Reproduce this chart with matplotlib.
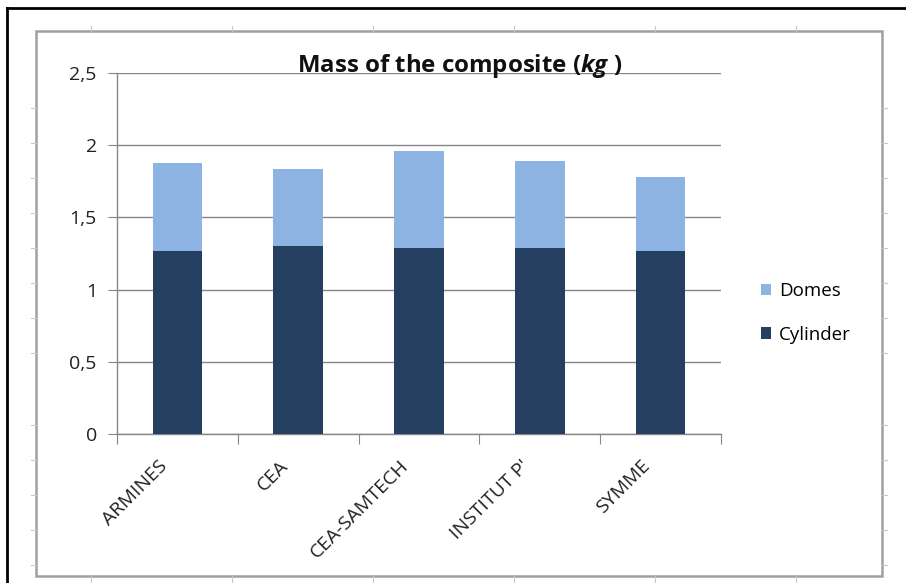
import matplotlib
matplotlib.use("Agg")
import matplotlib.pyplot as plt
from matplotlib.lines import Line2D
from matplotlib.patches import Rectangle
from matplotlib.transforms import ScaledTranslation, blended_transform_factory
import numpy as np

categories = ["ARMINES", "CEA", "CEA-SAMTECH", "INSTITUT P'", "SYMME"]
cylinder = [1.27, 1.30, 1.29, 1.29, 1.27]
domes = [0.61, 0.535, 0.67, 0.60, 0.51]
yticks = [0, 0.5, 1, 1.5, 2, 2.5]
ytick_labels = ["0", "0,5", "1", "1,5", "2", "2,5"]

plt.rcParams['font.family'] = ['Open Sans', 'DejaVu Sans']
plt.rcParams['mathtext.fontset'] = 'custom'
plt.rcParams['mathtext.it'] = 'Open Sans:italic:bold'
plt.rcParams['mathtext.rm'] = 'Open Sans:bold'

W, H = 906, 583
fig = plt.figure(figsize=(W / 100, H / 100), dpi=100)
fig.patch.set_facecolor("white")

def px(x, y):
    return x / W, 1 - y / H

# outer black frame (top and left)
fig.add_artist(Line2D([7 / W, 1], [1 - 8 / H, 1 - 8 / H], color="black", lw=2))
fig.add_artist(Line2D([7 / W, 7 / W], [0, 1 - 8 / H], color="black", lw=2))
# grey chart border
fig.add_artist(Rectangle(px(36, 576), (882 - 36) / W, (576 - 31) / H,
                         fill=False, edgecolor="#a0a0a0", lw=1.8))
# faint ruler ticks on the border
for x in [91, 232, 373, 514, 655, 796]:
    fig.add_artist(Line2D([x / W, x / W], [1 - 31 / H, 1 - 26 / H], color="#c8c8c8", lw=0.8))
    fig.add_artist(Line2D([x / W, x / W], [1 - 576 / H, 1 - 582 / H], color="#c8c8c8", lw=0.8))
for y in [108, 143, 178, 213, 248, 283, 318, 353, 425, 460, 495, 530, 565]:
    fig.add_artist(Line2D([31 / W, 36 / W], [1 - y / H, 1 - y / H], color="#c8c8c8", lw=0.8))
    fig.add_artist(Line2D([882 / W, 887 / W], [1 - y / H, 1 - y / H], color="#c8c8c8", lw=0.8))

ax = fig.add_axes([117 / W, 1 - 434 / H, (721 - 117) / W, (434 - 73) / H])
x = np.arange(len(categories))
bw = 0.41
ax.bar(x, cylinder, width=bw, color="#243F60", label="Cylinder", zorder=3)
ax.bar(x, domes, width=bw, bottom=cylinder, color="#8DB3E2", label="Domes", zorder=3)

ax.set_xlim(-0.5, len(categories) - 0.5)
ax.set_ylim(0, 2.5)
ax.set_yticks(yticks)
ax.set_yticklabels(ytick_labels, fontsize=14, color="#222222")
ax.yaxis.grid(True, color="#868686", lw=1, zorder=0)
ax.tick_params(axis="y", length=6.5, color="#868686", pad=8)

# category labels: rotated, anchored at their right end below each bar
ax.set_xticks(np.arange(-0.5, len(categories)))
ax.set_xticklabels([])
ax.tick_params(axis="x", length=7, color="#868686")
trans = blended_transform_factory(ax.transData, ax.transAxes) + \
    ScaledTranslation(-13 / 100, -29 / 100, fig.dpi_scale_trans)
for xi, name in zip(x, categories):
    ax.text(xi, 0, name, transform=trans, rotation=45, ha="right", va="center",
            rotation_mode="anchor", fontsize=14, color="#222222", clip_on=False)

for s in ["top", "right"]:
    ax.spines[s].set_visible(False)
for s in ["left", "bottom"]:
    ax.spines[s].set_color("#868686")
    ax.spines[s].set_linewidth(1)

fig.text(460 / W, 1 - 66 / H, r"Mass of the composite ($\mathit{kg}$ )",
         ha="center", va="center", fontsize=17.3, fontweight="bold", color="#111111")

handles, labels = ax.get_legend_handles_labels()
leg = fig.legend(handles[::-1], labels[::-1], loc="center left",
                 bbox_to_anchor=(744 / W, 1 - 313 / H), frameon=False, fontsize=13.5,
                 handlelength=0.55, handleheight=0.55, labelspacing=1.35,
                 handletextpad=0.4, borderpad=0.4)

fig.savefig("out.png", dpi=100, facecolor="white")
